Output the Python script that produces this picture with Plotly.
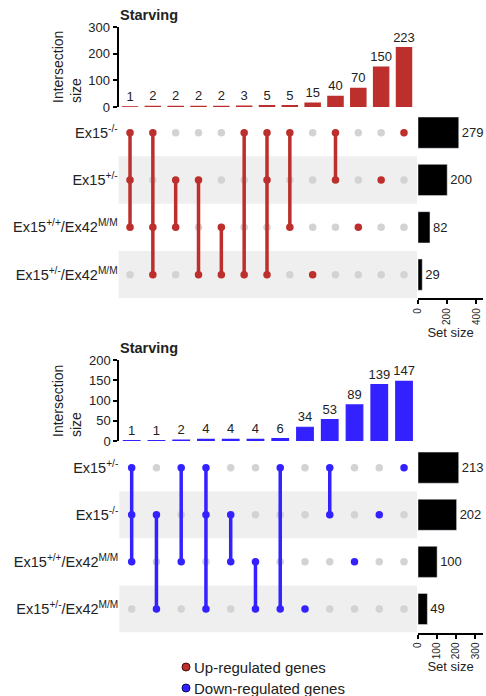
import plotly.graph_objects as go

W, H = 486, 696
RED = '#BC2F2C'
BLUE = '#3322FF'
GREY_DOT = '#D3D3D3'
BAND = '#EFEFEF'
FONT = 'Liberation Sans, Arial, sans-serif'

# ---------------- data ----------------
up_sets = ['Ex15<sup>-/-</sup>', 'Ex15<sup>+/-</sup>',
           'Ex15<sup>+/+</sup>/Ex42<sup>M/M</sup>', 'Ex15<sup>+/-</sup>/Ex42<sup>M/M</sup>']
up_set_sizes = [279, 200, 82, 29]
up_inter_sizes = [1, 2, 2, 2, 2, 3, 5, 5, 15, 40, 70, 150, 223]
up_members = [[0, 1, 2], [0, 2, 3], [1, 2], [1, 3], [2, 3], [0, 3], [0, 1, 3],
              [0, 2], [3], [0, 1], [2], [1], [0]]

down_sets = ['Ex15<sup>+/-</sup>', 'Ex15<sup>-/-</sup>',
             'Ex15<sup>+/+</sup>/Ex42<sup>M/M</sup>', 'Ex15<sup>+/-</sup>/Ex42<sup>M/M</sup>']
down_set_sizes = [213, 202, 100, 49]
down_inter_sizes = [1, 1, 2, 4, 4, 4, 6, 34, 53, 89, 139, 147]
down_members = [[0, 1, 2], [1, 3], [0, 2], [0, 1, 3], [1, 2], [2, 3], [0, 3],
                [3], [0, 1], [2], [1], [0]]

title_text = 'Starving'
legend_labels = ['Up-regulated genes', 'Down-regulated genes']


def fx(p):
    return p / W


def fy(p):
    return 1 - p / H


fig = go.Figure()
layout = dict(width=W, height=H, margin=dict(l=0, r=0, t=0, b=0, autoexpand=False),
              paper_bgcolor='white', plot_bgcolor='white', showlegend=False,
              font=dict(family=FONT, color='#222222'), shapes=[], annotations=[])


def panel(sets, set_sizes, inter_sizes, members, color, ax_cols, ax_set, ay_bar, ay_mat,
          col_dom, bar_dom, mat_dom, set_dom, bar_range, bar_ticks, set_range, set_ticks,
          title_y, ylab_y):
    n = len(inter_sizes)
    nr = len(sets)
    xc, xs = ax_cols, ax_set
    yb, ym = ay_bar, ay_mat
    # intersection bars
    fig.add_trace(go.Bar(x=list(range(n)), y=inter_sizes, width=0.67,
                         marker=dict(color=color, line=dict(color=color, width=1.2)),
                         text=[str(v) for v in inter_sizes], textposition='outside',
                         constraintext='none',
                         textfont=dict(size=13, color='#222222'), cliponaxis=False,
                         xaxis=xc, yaxis=yb))
    # grey dots
    gx, gy = [], []
    for i, m in enumerate(members):
        for r in range(nr):
            if r not in m:
                gx.append(i)
                gy.append(nr - 1 - r)
    fig.add_trace(go.Scatter(x=gx, y=gy, mode='markers',
                             marker=dict(color=GREY_DOT, size=7.5),
                             xaxis=xc, yaxis=ym, hoverinfo='skip'))
    # connecting lines
    lx, ly = [], []
    for i, m in enumerate(members):
        if len(m) > 1:
            lx += [i, i, None]
            ly += [nr - 1 - max(m), nr - 1 - min(m), None]
    fig.add_trace(go.Scatter(x=lx, y=ly, mode='lines', line=dict(color=color, width=3.5),
                             xaxis=xc, yaxis=ym, hoverinfo='skip'))
    # active dots
    ax_, ay_ = [], []
    for i, m in enumerate(members):
        for r in m:
            ax_.append(i)
            ay_.append(nr - 1 - r)
    fig.add_trace(go.Scatter(x=ax_, y=ay_, mode='markers',
                             marker=dict(color=color, size=7.5),
                             xaxis=xc, yaxis=ym, hoverinfo='skip'))
    # set size bars
    fig.add_trace(go.Bar(x=set_sizes, y=[nr - 1 - r for r in range(nr)], orientation='h',
                         width=0.66, marker=dict(color='black'),
                         text=[str(v) for v in set_sizes], textposition='outside',
                         constraintext='none',
                         textfont=dict(size=13, color='#222222'), cliponaxis=False,
                         xaxis=xs, yaxis=ym))

    def key(a):
        return ('xaxis' if a[0] == 'x' else 'yaxis') + (a[1:] if len(a) > 1 and a[1:] != '1' else '')

    layout[key(xc)] = dict(domain=[fx(col_dom[0]), fx(col_dom[1])], range=[-0.5, n - 0.5],
                           visible=False, anchor=yb, fixedrange=True, automargin=False)
    layout[key(yb)] = dict(domain=[fy(bar_dom[0]), fy(bar_dom[1])], range=bar_range,
                           tickvals=bar_ticks, showline=True, linecolor='black', linewidth=2,
                           ticks='outside', ticklen=4, tickwidth=1.5, tickcolor='black',
                           showgrid=False, zeroline=False, anchor=xc, automargin=False,
                           tickfont=dict(size=13, color='#222222'))
    layout[key(ym)] = dict(domain=[fy(mat_dom[0]), fy(mat_dom[1])], range=[-0.5, nr - 0.5],
                           tickvals=[nr - 1 - r for r in range(nr)], ticktext=sets,
                           showgrid=False, zeroline=False, showline=False, ticks='',
                           anchor=xc, automargin=False,
                           tickfont=dict(size=14.5, color='#222222'))
    layout[key(xs)] = dict(domain=[fx(set_dom[0]), fx(set_dom[1])], range=set_range,
                           tickvals=set_ticks, tickangle=-90, showline=True,
                           linecolor='black', linewidth=2, ticks='outside', ticklen=4,
                           tickwidth=1.5, tickcolor='black', showgrid=False, zeroline=False,
                           anchor=ym, automargin=False, tickfont=dict(size=10, color='#222222'),
                           title=dict(text='Set size', font=dict(size=13, color='#222222'),
                                      standoff=4))
    # bands on alternate rows
    for r in range(nr):
        if r % 2 == 1:
            layout['shapes'].append(dict(type='rect', xref='paper', yref=ym,
                                         x0=fx(col_dom[0]), x1=fx(set_dom[0] - 1),
                                         y0=nr - 1 - r - 0.5, y1=nr - 1 - r + 0.5,
                                         fillcolor=BAND, line=dict(width=0), layer='below'))
    layout['annotations'].append(dict(text='<b>' + title_text + '</b>', xref='paper', yref='paper',
                                      x=fx(118), y=fy(title_y), xanchor='left', yanchor='middle',
                                      showarrow=False, font=dict(size=14.5, color='#222222')))
    layout['annotations'].append(dict(text='Intersection<br>size', xref='paper', yref='paper',
                                      x=fx(67), y=fy(ylab_y), xanchor='center', yanchor='middle',
                                      textangle=-90, align='left', showarrow=False,
                                      font=dict(size=14, color='#222222')))


panel(up_sets, up_set_sizes, up_inter_sizes, up_members, RED,
      'x', 'x2', 'y', 'y2',
      col_dom=(118.6, 415.4), bar_dom=(107, 27), mat_dom=(298.3, 109), set_dom=(418, 483),
      bar_range=[0, 300], bar_ticks=[0, 100, 200, 300], set_range=[0, 445],
      set_ticks=[0, 200, 400], title_y=15, ylab_y=67)

panel(down_sets, down_set_sizes, down_inter_sizes, down_members, BLUE,
      'x3', 'x4', 'y3', 'y4',
      col_dom=(119.3, 416.4), bar_dom=(441, 360), mat_dom=(632.5, 444.1), set_dom=(418, 483),
      bar_range=[0, 200], bar_ticks=[0, 50, 100, 150, 200], set_range=[0, 340],
      set_ticks=[0, 100, 200, 300], title_y=348, ylab_y=401)

# legend
for lab, col, edge, py in [(legend_labels[0], RED, '#4A0A08', 667),
                           (legend_labels[1], BLUE, '#0A0860', 688)]:
    layout['shapes'].append(dict(type='circle', xref='paper', yref='paper',
                                 xsizemode='pixel', ysizemode='pixel',
                                 xanchor=fx(186), yanchor=fy(py), x0=-4, x1=4, y0=-4, y1=4,
                                 fillcolor=col, line=dict(color=edge, width=1)))
    layout['annotations'].append(dict(text=lab, xref='paper', yref='paper', x=fx(192), y=fy(py),
                                      xanchor='left', yanchor='middle', showarrow=False,
                                      font=dict(size=15, color='#222222')))

fig.update_layout(**layout)
fig.write_html('out.html', config={'displayModeBar': False},
               post_script="document.body.style.margin='0';document.body.style.overflow='hidden';")
